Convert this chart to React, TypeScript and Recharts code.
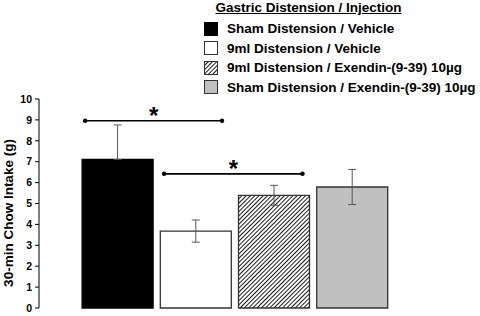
import {
  Bar,
  BarChart,
  Cell,
  ErrorBar,
  Legend,
  ReferenceDot,
  ReferenceLine,
  XAxis,
  YAxis,
} from "recharts";

const GROUPS = [
  "Sham Distension / Vehicle",
  "9ml Distension / Vehicle",
  "9ml Distension / Exendin-(9-39) 10µg",
  "Sham Distension / Exendin-(9-39) 10µg",
];
const MEANS = [7.11, 3.68, 5.39, 5.79];
const ERR_DOWN = [0, 0.53, 0.48, 0.84];
const ERR_UP = [1.65, 0.53, 0.48, 0.84];
const Y_TICKS = [0, 1, 2, 3, 4, 5, 6, 7, 8, 9, 10];

// significance brackets: [from, to, height] in axis units
const SIG_FROM = [0.59, 1.6];
const SIG_TO = [2.34, 3.37];
const SIG_Y = [8.96, 6.42];

const FILLS = ["#000000", "#FFFFFF", "url(#hatch)", "#C0C0C0"];
const STROKES = ["#000000", "#333333", "#333333", "#333333"];
const FONT = "'Liberation Sans', Arial, sans-serif";

const data = MEANS.map((mean, i) => ({
  x: i + 1,
  name: GROUPS[i],
  mean,
  err: [ERR_DOWN[i], ERR_UP[i]],
}));

function HatchDef({ id }: { id: string }) {
  return (
    <pattern
      id={id}
      patternUnits="userSpaceOnUse"
      width={3}
      height={3}
      patternTransform="rotate(45)"
    >
      <rect width={3} height={3} fill="#fff" />
      <line x1={0} y1={0} x2={0} y2={3} stroke="#1a1a1a" strokeWidth={2} />
    </pattern>
  );
}

function Swatch({ i }: { i: number }) {
  return (
    <svg width={14} height={14} style={{ display: "block" }}>
      <defs>
        <HatchDef id="hatchLegend" />
      </defs>
      <rect
        x={0.5}
        y={0.5}
        width={13}
        height={13}
        fill={i === 2 ? "url(#hatchLegend)" : FILLS[i]}
        stroke={STROKES[i]}
        strokeWidth={1}
      />
    </svg>
  );
}

function LegendBox() {
  return (
    <div style={{ fontFamily: FONT, fontWeight: "bold", color: "#000" }}>
      <div
        style={{
          marginLeft: 12,
          height: 16,
          lineHeight: "16px",
          fontSize: 13.5,
          textDecoration: "underline",
        }}
      >
        Gastric Distension / Injection
      </div>
      <div style={{ height: 3 }} />
      {GROUPS.map((g, i) => (
        <div
          key={g}
          style={{ display: "flex", alignItems: "center", height: 19.5, whiteSpace: "nowrap" }}
        >
          <Swatch i={i} />
          <span style={{ marginLeft: 9.5, fontSize: 13.5 }}>{g}</span>
        </div>
      ))}
    </div>
  );
}

export default function App() {
  return (
    <div style={{ position: "absolute", left: 0, top: 0, width: 480, height: 316, background: "#fff" }}>
      <BarChart
        width={480}
        height={316}
        data={data}
        margin={{ top: 99, right: 50, bottom: 8, left: 0 }}
        style={{ fontFamily: FONT }}
      >
        <defs>
          <HatchDef id="hatch" />
        </defs>
        <XAxis type="number" dataKey="x" domain={[0, 5]} hide />
        <YAxis
          domain={[0, 10]}
          ticks={Y_TICKS}
          interval={0}
          width={39}
          tickSize={4}
          tickMargin={3}
          axisLine={{ stroke: "#000" }}
          tickLine={{ stroke: "#000" }}
          tick={{ fontSize: 10.5, fontWeight: "bold", fill: "#000" }}
          label={{
            content: () => (
              <text
                x={8}
                y={213}
                transform="rotate(-90 8 213)"
                textAnchor="middle"
                dominantBaseline="central"
                fontSize={13.5}
                fontWeight="bold"
                fill="#000"
              >
                30-min Chow Intake (g)
              </text>
            ),
          }}
        />
        <Legend
          layout="vertical"
          align="center"
          verticalAlign="middle"
          wrapperStyle={{ top: 0, left: 203.5, width: 276 }}
          content={() => <LegendBox />}
        />
        <Bar dataKey="mean" barSize={71} isAnimationActive={false}>
          {data.map((d, i) => (
            <Cell key={d.name} fill={FILLS[i]} stroke={STROKES[i]} strokeWidth={1.3} />
          ))}
          <ErrorBar dataKey="err" direction="y" width={4} stroke="#555" strokeWidth={1} />
        </Bar>
        {SIG_Y.map((y, i) => (
          <ReferenceLine
            key={`sig${i}`}
            segment={[
              { x: SIG_FROM[i], y },
              { x: SIG_TO[i], y },
            ]}
            stroke="#000"
            strokeWidth={1.7}
            label={{ value: "*", position: "top", offset: -3, fontSize: 24, fontWeight: "bold", fill: "#000" }}
          />
        ))}
        {SIG_Y.flatMap((y, i) => [
          <ReferenceDot key={`a${i}`} x={SIG_FROM[i]} y={y} r={2.2} fill="#000" stroke="none" />,
          <ReferenceDot key={`b${i}`} x={SIG_TO[i]} y={y} r={2.2} fill="#000" stroke="none" />,
        ])}
      </BarChart>
    </div>
  );
}
